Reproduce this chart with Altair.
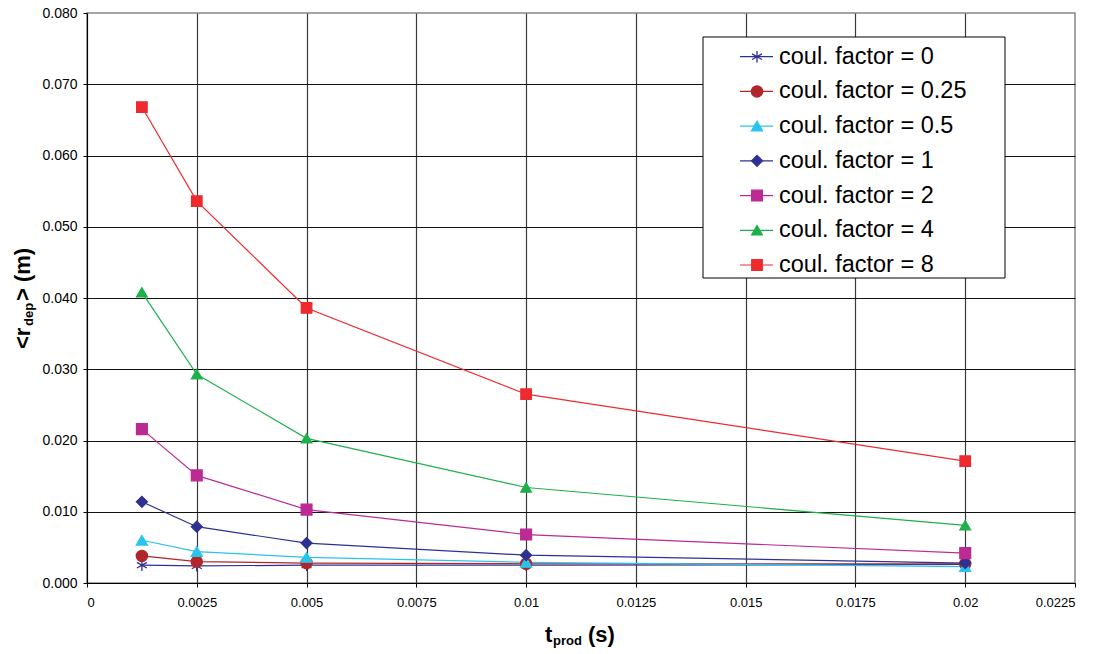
import altair as alt
import pandas as pd

# ---- data ----
t_prod = [0.00125, 0.0025, 0.005, 0.01, 0.02]
series_names = [
    "coul. factor = 0",
    "coul. factor = 0.25",
    "coul. factor = 0.5",
    "coul. factor = 1",
    "coul. factor = 2",
    "coul. factor = 4",
    "coul. factor = 8",
]
r_cf0 = [0.0025, 0.0024, 0.0025, 0.0025, 0.0026]
r_cf025 = [0.0038, 0.0030, 0.0028, 0.0027, 0.0027]
r_cf05 = [0.0060, 0.0044, 0.0036, 0.0029, 0.0023]
r_cf1 = [0.0114, 0.0079, 0.0056, 0.0039, 0.0028]
r_cf2 = [0.0216, 0.0151, 0.0103, 0.0068, 0.0042]
r_cf4 = [0.0408, 0.0293, 0.0203, 0.0134, 0.0081]
r_cf8 = [0.0668, 0.0536, 0.0386, 0.0265, 0.0171]
all_series = [r_cf0, r_cf025, r_cf05, r_cf1, r_cf2, r_cf4, r_cf8]

x_ticks = [0, 0.0025, 0.005, 0.0075, 0.01, 0.0125, 0.015, 0.0175, 0.02, 0.0225]
y_ticks = [0, 0.01, 0.02, 0.03, 0.04, 0.05, 0.06, 0.07, 0.08]

colors = ["#2E3192", "#B0262B", "#29C4EE", "#2E3192", "#BC2A94", "#1DB04B", "#EE2A2E"]
asterisk = "M0,-1L0,1M-0.87,-0.5L0.87,0.5M-0.87,0.5L0.87,-0.5"
shapes = [asterisk, "circle", "triangle-up", "diamond", "square", "triangle-up", "square"]
sizes = [130, 110, 120, 130, 140, 120, 140]

FONT = "Liberation Sans"

rows = []
for si, (name, vals) in enumerate(zip(series_names, all_series)):
    for x, y in zip(t_prod, vals):
        rows.append({"series": name, "order": si, "t": x, "r": y})
df = pd.DataFrame(rows)
legend_df = pd.DataFrame({"series": series_names})
one = pd.DataFrame({"a": [0]})

color_scale = alt.Scale(domain=series_names, range=colors)
shape_scale = alt.Scale(domain=series_names, range=shapes)
size_scale = alt.Scale(domain=series_names, range=sizes)

x_enc = alt.X(
    "t:Q",
    scale=alt.Scale(domain=[0, 0.0225], nice=False, zero=False),
    axis=alt.Axis(
        values=x_ticks, format=".4~f", title=None,
        labelFont=FONT, labelFontSize=13,
        labelColor="black", labelPadding=9,
        tickColor="black", tickSize=4, domainColor="black", domainWidth=1,
        gridColor="#3a3a3a", gridWidth=1.2,
        gridOpacity={"condition": {"test": "datum.value > 0.0224", "value": 0}, "value": 1},
    ),
)
y_enc = alt.Y(
    "r:Q",
    scale=alt.Scale(domain=[0, 0.08], nice=False),
    axis=alt.Axis(
        values=y_ticks, format=".3f", title=None,
        labelFont=FONT, labelFontSize=14, labelColor="black", labelPadding=6,
        tickColor="black", tickSize=4, domainColor="black", domainWidth=1,
        gridColor="#111111", gridWidth=1,
        gridOpacity={"condition": {"test": "datum.value > 0.0799", "value": 0}, "value": 1},
    ),
)

base = alt.Chart(df)
lines = base.mark_line(strokeWidth=1.2).encode(
    x=x_enc, y=y_enc,
    color=alt.Color("series:N", scale=color_scale, legend=None),
    detail="series:N",
    order="t:Q",
)
points = base.mark_point(filled=True, opacity=1, strokeWidth=1.3).encode(
    x=x_enc, y=y_enc,
    color=alt.Color("series:N", scale=color_scale, legend=None),
    stroke=alt.Stroke("series:N", scale=color_scale, legend=None),
    shape=alt.Shape("series:N", scale=shape_scale, legend=None),
    size=alt.Size("series:N", scale=size_scale, legend=None),
    order="order:Q",
)
main = alt.layer(lines, points)

# ---- legend built from the series names ----
ly = alt.Y("series:N", scale=alt.Scale(type="point", domain=series_names, range=[43.7, 252], padding=0), axis=None)
box = alt.Chart(one).mark_rect(fill="white", stroke="black", strokeWidth=1).encode(
    x=alt.value(616), x2=alt.value(918), y=alt.value(24), y2=alt.value(265)
)
leg_lines = alt.Chart(legend_df).mark_rule(strokeWidth=1.2).encode(
    x=alt.value(653), x2=alt.value(686), y=ly,
    color=alt.Color("series:N", scale=color_scale, legend=None),
)
leg_points = alt.Chart(legend_df).mark_point(filled=True, opacity=1, strokeWidth=1.3).encode(
    x=alt.value(670), y=ly,
    color=alt.Color("series:N", scale=color_scale, legend=None),
    stroke=alt.Stroke("series:N", scale=color_scale, legend=None),
    shape=alt.Shape("series:N", scale=shape_scale, legend=None),
    size=alt.Size("series:N", scale=size_scale, legend=None),
)
leg_text = alt.Chart(legend_df).mark_text(
    align="left", baseline="middle", fontSize=23.5, font=FONT, color="black"
).encode(x=alt.value(692), y=ly, text="series:N")
legend = alt.layer(box, leg_lines, leg_points, leg_text)

# ---- axis titles with subscripts ----
def txt(s, x, y, size, angle=0):
    kw = dict(align="left", baseline="alphabetic", fontSize=size, font=FONT,
              fontWeight="bold", color="black", text=s)
    if angle:
        kw["angle"] = angle
    return alt.Chart(one).mark_text(**kw).encode(x=alt.value(x), y=alt.value(y))

titles = alt.layer(
    txt("t", 458, 629, 22),
    txt("prod", 466, 632, 13),
    txt("(s)", 501, 629, 22),
    txt("<r", -57, 336, 22, 270),
    txt("dep", -54, 313, 13, 270),
    txt("> (m)", -57, 288, 22, 270),
)

chart = (
    alt.layer(main, legend, titles)
    .resolve_scale(y="independent")
    .properties(
        width=988, height=570,
        autosize=alt.AutoSizeParams(type="none"),
        padding={"left": 87, "top": 13, "right": 30, "bottom": 71},
        background="white",
    )
    .configure_view(stroke="#888888", strokeWidth=1.5)
    .configure_text(font=FONT)
)

chart.save("out.html", embed_options={"renderer": "svg", "actions": False})
